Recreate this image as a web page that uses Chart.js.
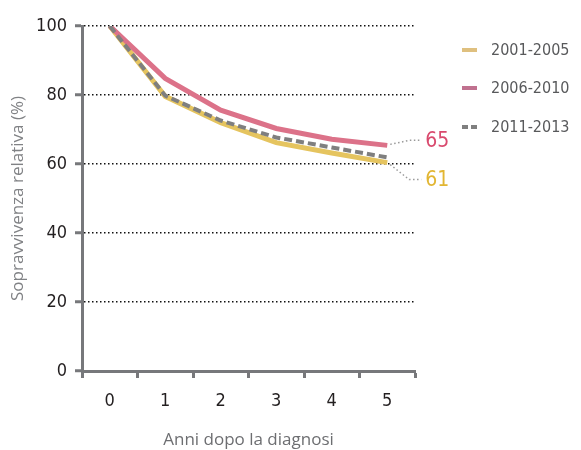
<!DOCTYPE html>
<html>
<head>
<meta charset="utf-8">
<script src="https://cdn.jsdelivr.net/npm/chart.js@4"></script>
<style>
  html, body { margin: 0; padding: 0; background: #fff; }
  #wrap { width: 581px; height: 450px; }
</style>
</head>
<body>
<div id="wrap"><canvas id="chart" width="581" height="450"></canvas></div>
<script>
const years = ["0", "1", "2", "3", "4", "5"];
const seriesNames = ["2001-2005", "2006-2010", "2011-2013"];
const s2001 = [100, 79.6, 72, 66.2, 63.2, 60.4];
const s2006 = [100, 84.8, 75.6, 70.3, 67.2, 65.4];
const s2011 = [100, 79.8, 72.6, 67.7, 64.8, 61.9];
const endLabels = ["61", "65", null];
const yTicks = [0, 20, 40, 60, 80, 100];

const lineColors = ["#e5c45f", "#dc7289", "#7f7f7f"];
const legendColors = ["#dfc07f", "#c0718f", "#7f7f7f"];
const labelColors = ["#e2b632", "#d94a6e", null];

const axisGray = "#77787b";
const narrow = "'DejaVu Sans Condensed', 'Liberation Sans Narrow', sans-serif";
const regular = "'Open Sans', 'Noto Sans', sans-serif";

const ctx = document.getElementById("chart").getContext("2d");

// legend + end labels with leader lines
const extrasPlugin = {
  id: "extras",
  afterDatasetsDraw(chart) {
    const c = chart.ctx;
    const xs = chart.scales.x;
    const ys = chart.scales.y;
    const last = years.length - 1;
    const datas = [s2001, s2006, s2011];
    const offsets = [17, -5]; // label vertical offsets in px

    c.save();
    for (let i = 0; i < 2; i++) {
      const px = xs.getPixelForValue(last);
      const py = ys.getPixelForValue(datas[i][last]);
      const ly = py + offsets[i];
      c.strokeStyle = "#999";
      c.lineWidth = 1.5;
      c.setLineDash([1.5, 2.5]);
      c.beginPath();
      c.moveTo(px + 3, py + (offsets[i] > 0 ? 2 : -1));
      c.lineTo(px + 22, ly);
      c.lineTo(px + 34, ly);
      c.stroke();
      c.setLineDash([]);
      c.fillStyle = labelColors[i];
      c.font = "21px " + narrow;
      c.textBaseline = "middle";
      c.textAlign = "left";
      c.fillText(endLabels[i], px + 38, ly + 1);
    }

    // legend
    const ly0 = [50, 88, 127];
    for (let i = 0; i < 3; i++) {
      c.strokeStyle = legendColors[i];
      c.lineWidth = 4;
      c.setLineDash(i === 2 ? [6, 3] : []);
      c.beginPath();
      c.moveTo(462, ly0[i]);
      c.lineTo(477, ly0[i]);
      c.stroke();
      c.setLineDash([]);
      c.fillStyle = "#58595b";
      c.font = "16px " + narrow;
      c.textBaseline = "middle";
      c.textAlign = "left";
      c.fillText(seriesNames[i], 491, ly0[i] + 1);
    }
    c.restore();
  },
};

new Chart(ctx, {
  type: "line",
  data: {
    labels: years,
    datasets: [
      {
        label: seriesNames[0],
        data: s2001,
        borderColor: lineColors[0],
        borderWidth: 5,
        pointRadius: 0,
        tension: 0,
        order: 3,
      },
      {
        label: seriesNames[1],
        data: s2006,
        borderColor: lineColors[1],
        borderWidth: 5,
        pointRadius: 0,
        tension: 0,
        order: 2,
      },
      {
        label: seriesNames[2],
        data: s2011,
        borderColor: lineColors[2],
        borderWidth: 4,
        borderDash: [8, 4],
        pointRadius: 0,
        tension: 0,
        order: 1,
      },
    ],
  },
  options: {
    responsive: false,
    animation: false,
    layout: { padding: { left: 0, top: 26, right: 166, bottom: 0 } },
    plugins: {
      legend: { display: false },
      tooltip: { enabled: false },
    },
    scales: {
      x: {
        type: "category",
        offset: true,
        border: { color: axisGray, width: 3 },
        grid: {
          offset: true,
          drawOnChartArea: false,
          drawTicks: true,
          tickLength: 7,
          tickColor: axisGray,
          tickWidth: 3,
        },
        ticks: {
          color: "#231f20",
          font: { family: narrow, size: 18 },
          padding: 13,
        },
        title: {
          display: true,
          text: "Anni dopo la diagnosi",
          color: "#6d6e71",
          font: { family: regular, size: 17 },
          padding: { top: 10, bottom: 0 },
        },
        afterFit: (scale) => {
          scale.height = 79;
        },
      },
      y: {
        min: 0,
        max: 100,
        afterBuildTicks: (scale) => {
          scale.ticks = yTicks.map((v) => ({ value: v }));
        },
        border: { color: axisGray, width: 3, dash: [1.5, 2.5] },
        grid: {
          color: (c) => (c.tick && c.tick.value === 0 ? "rgba(0,0,0,0)" : "#111"),
          lineWidth: 1.5,
          drawTicks: true,
          tickLength: 7,
          tickColor: axisGray,
          tickWidth: 3,
          tickBorderDash: [],
        },
        ticks: {
          color: "#231f20",
          font: { family: narrow, size: 18 },
          padding: 8,
        },
        title: {
          display: true,
          text: "Sopravvivenza relativa (%)",
          color: "#808285",
          font: { family: regular, size: 17 },
          padding: { top: 8, bottom: 0 },
        },
        afterFit: (scale) => {
          scale.width = 82;
        },
      },
    },
  },
  plugins: [extrasPlugin],
});
</script>
</body>
</html>
